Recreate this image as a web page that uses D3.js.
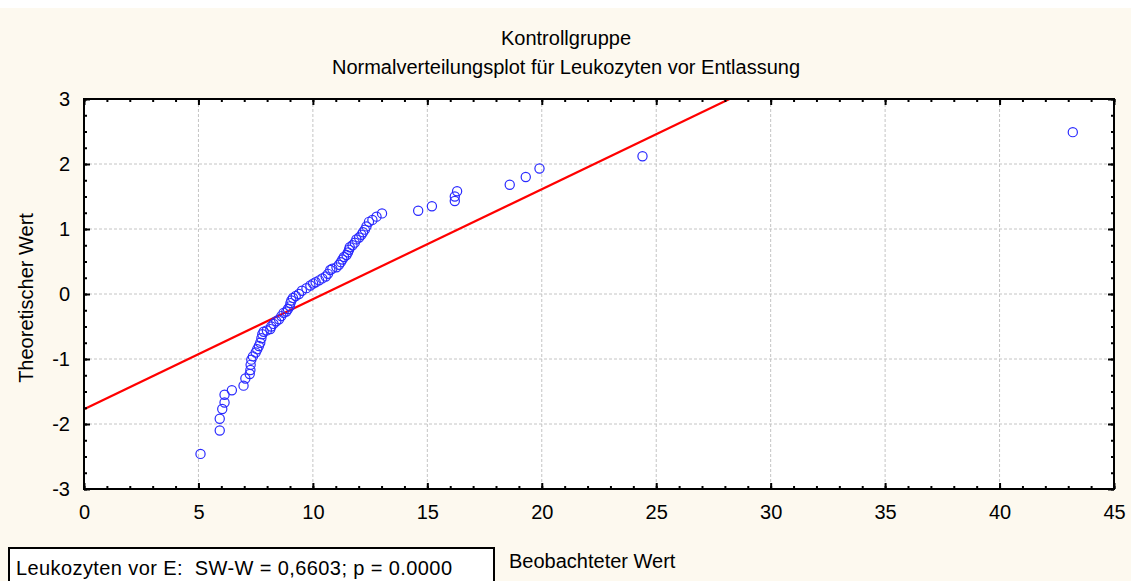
<!DOCTYPE html>
<html>
<head>
<meta charset="utf-8">
<script src="https://cdn.jsdelivr.net/npm/d3@7"></script>
<style>
  body { margin: 0; background: #fdf9ef; }
  svg { display: block; }
  text { font-family: "Liberation Sans", Arial, sans-serif; fill: #000; }
</style>
</head>
<body>
<svg id="chart" width="1131" height="581"></svg>
<script>
'use strict';
// observed values (Leukozyten vor Entlassung), sorted
var observed = [5.09, 5.93, 5.93, 6.04, 6.14, 6.14, 6.46, 6.97, 7.05, 7.24, 7.27, 7.28, 7.31, 7.38,
    7.50, 7.57, 7.64, 7.70, 7.75, 7.79, 7.85, 7.99, 8.14, 8.18, 8.28, 8.40, 8.52, 8.62, 8.72,
    8.84, 8.91, 8.99, 9.02, 9.06, 9.13, 9.25, 9.39, 9.52, 9.72, 9.89, 10.01, 10.12, 10.27,
    10.41, 10.56, 10.66, 10.76, 10.85, 11.03, 11.14, 11.22, 11.29, 11.36, 11.47, 11.53, 11.58,
    11.61, 11.73, 11.83, 11.90, 12.02, 12.12, 12.19, 12.27, 12.34, 12.45, 12.60, 12.78, 13.02,
    14.6, 15.2, 16.2, 16.2, 16.3, 18.6, 19.3, 19.9, 24.4, 43.2];
// theoretical normal quantiles
var theoretical = [-2.46, -2.10, -1.92, -1.77, -1.67, -1.55, -1.48, -1.41, -1.30, -1.23, -1.17, -1.09, -1.01, -0.96,
    -0.90, -0.85, -0.80, -0.75, -0.68, -0.62, -0.58, -0.56, -0.54, -0.50, -0.46, -0.42, -0.39, -0.34, -0.29,
    -0.27, -0.23, -0.19, -0.14, -0.10, -0.06, -0.03, 0.00, 0.05, 0.09, 0.13, 0.16, 0.18, 0.21,
    0.24, 0.27, 0.31, 0.37, 0.39, 0.41, 0.45, 0.49, 0.53, 0.57, 0.60, 0.64, 0.68,
    0.72, 0.75, 0.79, 0.84, 0.87, 0.91, 0.95, 0.99, 1.04, 1.11, 1.14, 1.19, 1.24,
    1.28, 1.35, 1.43, 1.50, 1.58, 1.68, 1.80, 1.93, 2.12, 2.49];
// reference line: theoretical = (x - mean) / sd
var lineMean = 10.47, lineSd = 5.91;
var xTicks = [0, 5, 10, 15, 20, 25, 30, 35, 40, 45];
var yTicks = [-3, -2, -1, 0, 1, 2, 3];
var titles = ["Kontrollgruppe", "Normalverteilungsplot für Leukozyten vor Entlassung"];
var xLabel = "Beobachteter Wert", yLabel = "Theoretischer Wert";
var legendText = "Leukozyten vor E:  SW-W = 0,6603; p = 0.0000";

var margin = { top: 99, right: 17, bottom: 92, left: 84 },
    width = 1131 - margin.left - margin.right,
    height = 581 - margin.top - margin.bottom;

var svg = d3.select("#chart");
svg.append("rect").attr("width", 1131).attr("height", 8).attr("fill", "#fff");

var x = d3.scaleLinear().domain([0, 45]).range([0, width]);
var y = d3.scaleLinear().domain([-3, 3]).range([height, 0]);

var g = svg.append("g").attr("transform", "translate(" + margin.left + "," + margin.top + ")");
g.append("rect").attr("width", width).attr("height", height).attr("fill", "#fff");

// grid
g.append("g").selectAll("line").data(xTicks.slice(1, -1)).enter().append("line")
    .attr("x1", function (d) { return x(d); }).attr("x2", function (d) { return x(d); })
    .attr("y1", 0).attr("y2", height)
    .attr("stroke", "#c4c4c4").attr("stroke-dasharray", "3,2");
g.append("g").selectAll("line").data(yTicks.slice(1, -1)).enter().append("line")
    .attr("y1", function (d) { return y(d); }).attr("y2", function (d) { return y(d); })
    .attr("x1", 0).attr("x2", width)
    .attr("stroke", "#c4c4c4").attr("stroke-dasharray", "3,2");

// clip for line
g.append("clipPath").attr("id", "clip").append("rect").attr("width", width).attr("height", height);

var fit = d3.line()
    .x(function (d) { return x(d); })
    .y(function (d) { return y((d - lineMean) / lineSd); });
g.append("path").datum([0, 45]).attr("d", fit).attr("clip-path", "url(#clip)")
    .attr("stroke", "#ff0000").attr("stroke-width", 2.2).attr("fill", "none");

// points
g.append("g").selectAll("circle").data(observed).enter().append("circle")
    .attr("cx", function (d) { return x(d); })
    .attr("cy", function (d, i) { return y(theoretical[i]); })
    .attr("r", 4.6)
    .attr("fill", "none").attr("stroke", "#2a2aff").attr("stroke-width", 1.2);

// axes: inward ticks on all sides
function styleAxis(sel) {
    sel.select(".domain").remove();
    sel.selectAll(".tick line").attr("stroke", "#000").attr("stroke-width", 2);
    sel.selectAll(".tick text").style("font-size", "20px").style("font-family", "Liberation Sans, Arial, sans-serif");
}
var minorX = d3.range(0, 46, 1), minorY = d3.range(-3, 3.01, 0.25);

g.append("g").attr("transform", "translate(0," + height + ")")
    .call(d3.axisBottom(x).tickValues(minorX).tickSize(-3).tickFormat("")).call(styleAxis);
g.append("g").attr("transform", "translate(0," + height + ")")
    .call(d3.axisBottom(x).tickValues(xTicks).tickSizeInner(-6).tickPadding(16).tickFormat(String))
    .call(styleAxis);
g.append("g")
    .call(d3.axisTop(x).tickValues(minorX).tickSize(-3).tickFormat("")).call(styleAxis);
g.append("g")
    .call(d3.axisTop(x).tickValues(xTicks).tickSize(-6).tickFormat("")).call(styleAxis);
g.append("g")
    .call(d3.axisLeft(y).tickValues(minorY).tickSize(-3).tickFormat("")).call(styleAxis);
g.append("g")
    .call(d3.axisLeft(y).tickValues(yTicks).tickSizeInner(-6).tickPadding(14).tickFormat(String))
    .call(styleAxis);
g.append("g").attr("transform", "translate(" + width + ",0)")
    .call(d3.axisRight(y).tickValues(minorY).tickSize(-3).tickFormat("")).call(styleAxis);
g.append("g").attr("transform", "translate(" + width + ",0)")
    .call(d3.axisRight(y).tickValues(yTicks).tickSize(-6).tickFormat("")).call(styleAxis);

g.append("rect").attr("width", width).attr("height", height)
    .attr("fill", "none").attr("stroke", "#000").attr("stroke-width", 2);

// titles
svg.selectAll(".title").data(titles).enter().append("text")
    .attr("x", 566).attr("y", function (d, i) { return 45 + i * 29; })
    .attr("text-anchor", "middle").style("font-size", "20px")
    .text(function (d) { return d; });

svg.append("text").attr("x", 509).attr("y", 568).style("font-size", "20px").text(xLabel);
svg.append("text").attr("transform", "translate(33,298) rotate(-90)")
    .attr("text-anchor", "middle").style("font-size", "20px").text(yLabel);

// legend box
svg.append("rect").attr("x", 9).attr("y", 548).attr("width", 485).attr("height", 40)
    .attr("fill", "#fff").attr("stroke", "#000").attr("stroke-width", 2);
svg.append("text").attr("x", 16).attr("y", 575).style("font-size", "20px")
    .style("white-space", "pre").attr("textLength", 436).text(legendText);
</script>
</body>
</html>
